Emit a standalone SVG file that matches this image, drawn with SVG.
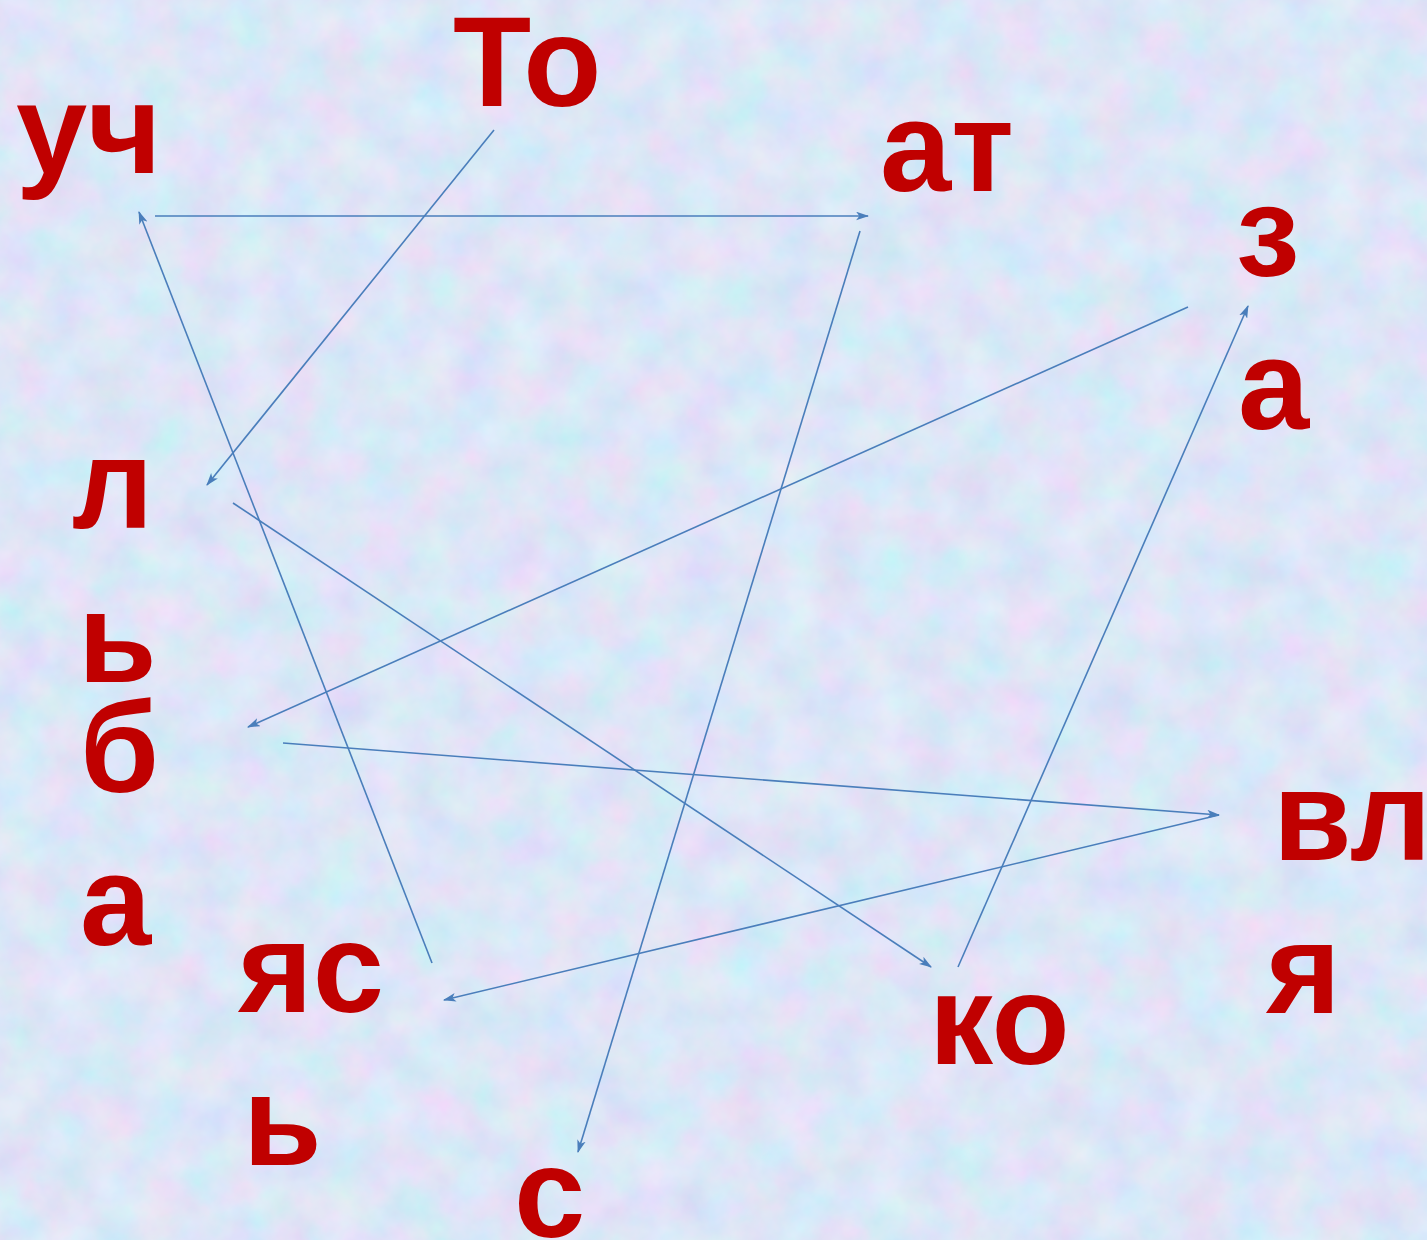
<svg xmlns="http://www.w3.org/2000/svg" width="1427" height="1240" viewBox="0 0 1427 1240">
<style>
.t{font-family:"Liberation Sans",Arial,sans-serif;font-weight:bold;font-size:128px;fill:#C00000}
.c{stroke:#4A7EBB;stroke-width:1.6;fill:none;marker-end:url(#ah)}
</style>
<defs>
<filter id="tex" x="0" y="0" width="100%" height="100%">
<feTurbulence type="fractalNoise" baseFrequency="0.022" numOctaves="4" seed="7"/>
<feColorMatrix type="matrix" values="0.4 -0.2 0 0 0.66  0 0.3 0 0 0.67  0 0 0.15 0 0.87  0 0 0 0 1"/>
</filter>
<marker id="ah" viewBox="0 0 12 8" refX="11" refY="4" markerWidth="13" markerHeight="9" markerUnits="userSpaceOnUse" orient="auto">
<path d="M0,0 L12,4 L0,8 L3,4 z" fill="#4A7EBB"/>
</marker>
</defs>
<rect width="1427" height="1240" fill="#C2D5F0"/>
<rect width="1427" height="1240" filter="url(#tex)" opacity="0.85"/>
<g id="connectors">
<line class="c" x1="155" y1="216" x2="868" y2="216"/>
<line class="c" x1="494" y1="130" x2="207" y2="485"/>
<line class="c" x1="860" y1="231" x2="578" y2="1152"/>
<line class="c" x1="1188" y1="307" x2="248" y2="727"/>
<line class="c" x1="958" y1="967" x2="1248" y2="306"/>
<line class="c" x1="233" y1="503" x2="931" y2="967"/>
<line class="c" x1="283" y1="743" x2="1219" y2="815"/>
<line class="c" x1="1219" y1="815" x2="444" y2="1000"/>
<line class="c" x1="432" y1="963" x2="139" y2="212"/>
</g>
<g id="n-uch"><text class="t" x="16" y="173">уч</text></g>
<g id="n-to"><text class="t" x="453" y="106">То</text></g>
<g id="n-at"><text class="t" x="880" y="191">ат</text></g>
<g id="n-z"><text class="t" x="1236" y="276">з</text></g>
<g id="n-a1"><text class="t" x="1238" y="429">а</text></g>
<g id="n-l"><text class="t" x="72" y="528">л</text></g>
<g id="n-soft1"><text class="t" x="78" y="682">ь</text></g>
<g id="n-b"><text class="t" x="80" y="792">б</text></g>
<g id="n-a2"><text class="t" x="80" y="945">а</text></g>
<g id="n-yas"><text class="t" x="238" y="1012">яс</text></g>
<g id="n-soft2"><text class="t" x="243" y="1165">ь</text></g>
<g id="n-s"><text class="t" x="514" y="1237">с</text></g>
<g id="n-ko"><text class="t" x="929" y="1064">ко</text></g>
<g id="n-vl"><text class="t" x="1273" y="860">вл</text></g>
<g id="n-ya"><text class="t" x="1266" y="1013">я</text></g>
</svg>
